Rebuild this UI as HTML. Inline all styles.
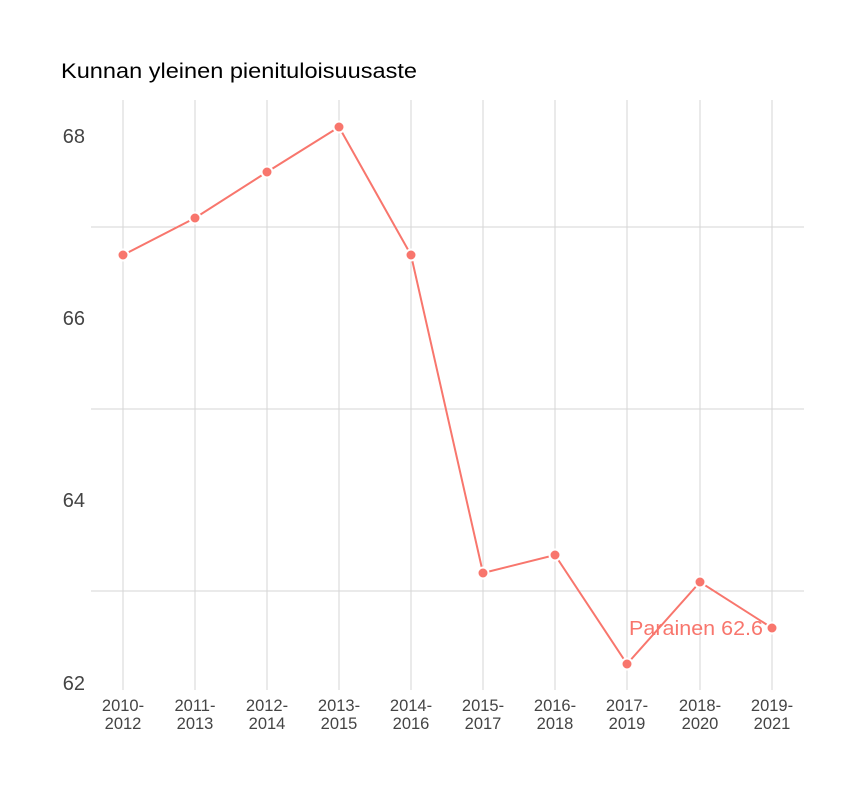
<!DOCTYPE html>
<html><head><meta charset="utf-8"><style>body{margin:0;background:#fff}svg{display:block}</style></head><body>
<svg width="864" height="792" xmlns="http://www.w3.org/2000/svg" font-family="Liberation Sans, DejaVu Sans, sans-serif">
<rect width="864" height="792" fill="#fff"/>
<text x="61" y="78" font-size="21" fill="#000" textLength="356" lengthAdjust="spacingAndGlyphs">Kunnan yleinen pienituloisuusaste</text>
<g stroke="#d6d6d6" stroke-width="1">
<line x1="91" x2="804" y1="227" y2="227"/><line x1="91" x2="804" y1="409" y2="409"/><line x1="91" x2="804" y1="591" y2="591"/>
<line x1="123" x2="123" y1="100" y2="690"/><line x1="195" x2="195" y1="100" y2="690"/><line x1="267" x2="267" y1="100" y2="690"/><line x1="339" x2="339" y1="100" y2="690"/><line x1="411" x2="411" y1="100" y2="690"/><line x1="483" x2="483" y1="100" y2="690"/><line x1="555" x2="555" y1="100" y2="690"/><line x1="627" x2="627" y1="100" y2="690"/><line x1="700" x2="700" y1="100" y2="690"/><line x1="772" x2="772" y1="100" y2="690"/>
</g>
<g font-size="20" fill="#444" text-anchor="end">
<text x="85" y="143">68</text><text x="85" y="325">66</text><text x="85" y="507">64</text><text x="85" y="690">62</text>
</g>
<g font-size="16.5" fill="#444" text-anchor="middle">
<text x="123" y="711">2010-</text><text x="123" y="729">2012</text>
<text x="195" y="711">2011-</text><text x="195" y="729">2013</text>
<text x="267" y="711">2012-</text><text x="267" y="729">2014</text>
<text x="339" y="711">2013-</text><text x="339" y="729">2015</text>
<text x="411" y="711">2014-</text><text x="411" y="729">2016</text>
<text x="483" y="711">2015-</text><text x="483" y="729">2017</text>
<text x="555" y="711">2016-</text><text x="555" y="729">2018</text>
<text x="627" y="711">2017-</text><text x="627" y="729">2019</text>
<text x="700" y="711">2018-</text><text x="700" y="729">2020</text>
<text x="772" y="711">2019-</text><text x="772" y="729">2021</text>
</g>
<polyline fill="none" stroke="#f8766d" stroke-width="2" points="123,255 195,218 267,172 339,127 411,255 483,573 555,555 627,664 700,582 772,628"/>
<g fill="#f8766d" stroke="#fff" stroke-width="2">
<circle cx="123" cy="255" r="5.5"/><circle cx="195" cy="218" r="5.5"/><circle cx="267" cy="172" r="5.5"/><circle cx="339" cy="127" r="5.5"/><circle cx="411" cy="255" r="5.5"/><circle cx="483" cy="573" r="5.5"/><circle cx="555" cy="555" r="5.5"/><circle cx="627" cy="664" r="5.5"/><circle cx="700" cy="582" r="5.5"/><circle cx="772" cy="628" r="5.5"/>
</g>
<text x="629" y="635" font-size="20" fill="#f8766d" textLength="134" lengthAdjust="spacingAndGlyphs">Parainen 62.6</text>
</svg>
</body></html>
